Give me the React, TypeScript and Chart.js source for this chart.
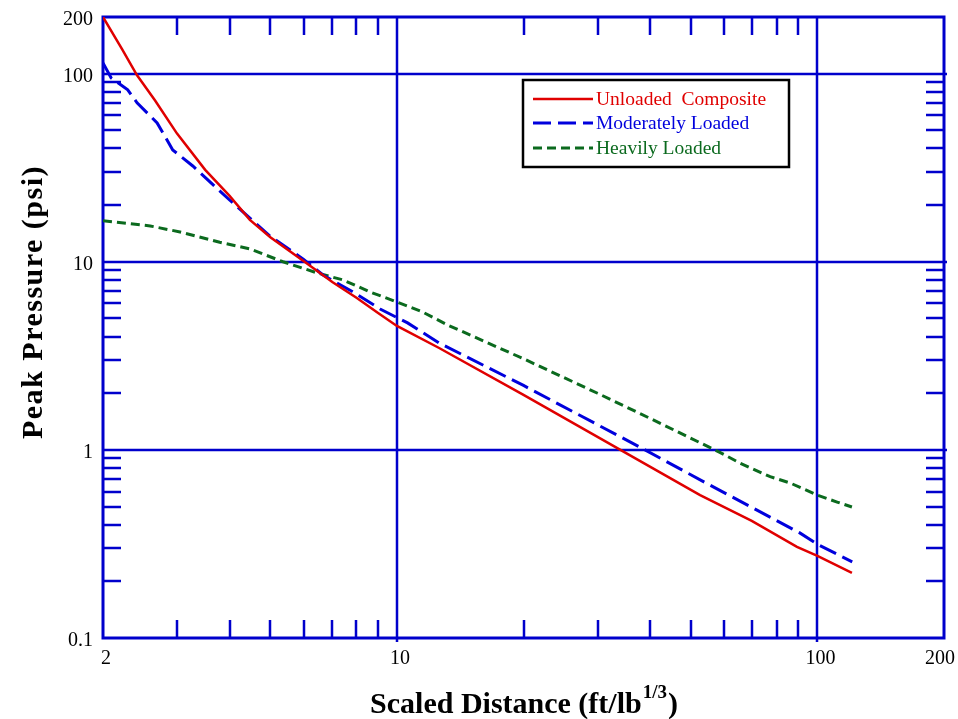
import React, { useEffect, useRef } from 'react';
import { Chart, registerables } from 'chart.js';

Chart.register(...registerables);

// ---- data ----
const xTickValues = [2, 10, 100, 200];
const yTickValues = [0.1, 1, 10, 100, 200];
const xMajorGrid = [10, 100];
const yMajorGrid = [1, 10, 100];
const xMinorTicks = [3, 4, 5, 6, 7, 8, 9, 20, 30, 40, 50, 60, 70, 80, 90];
const yMinorTicks = [0.2, 0.3, 0.4, 0.5, 0.6, 0.7, 0.8, 0.9, 2, 3, 4, 5, 6, 7, 8, 9, 20, 30, 40, 50, 60, 70, 80, 90];

const unloadedX = [2, 2.22, 2.41, 2.66, 3.0, 3.5, 4.0, 4.47, 5.0, 6.03, 7.02, 8.03, 9.02, 10, 12.6, 20, 34, 52.6, 69.8, 89.4, 100, 120.8];
const unloadedY = [200, 135, 98, 72, 48, 30.8, 22.4, 16.7, 13.5, 10, 7.81, 6.42, 5.34, 4.56, 3.48, 1.96, 1.0, 0.575, 0.419, 0.305, 0.273, 0.222];

const moderateX = [2, 2.09, 2.29, 2.41, 2.69, 2.93, 3.27, 4.0, 4.99, 6.0, 6.67, 7.87, 9.12, 10.6, 12.6, 20, 38.9, 54.3, 90.8, 100, 121];
const moderateY = [114, 95, 82, 70, 54.7, 39.3, 32.3, 21.3, 13.7, 10.3, 8.5, 6.9, 5.61, 4.73, 3.7, 2.2, 1.0, 0.667, 0.362, 0.315, 0.254];

const heavyX = [2, 2.59, 3.05, 3.79, 4.47, 5.36, 6.46, 7.45, 8.63, 10, 11.5, 13.2, 20, 30, 40, 58.6, 65.5, 77.2, 86.1, 100, 111.4, 120.8];
const heavyY = [16.5, 15.5, 14.4, 12.7, 11.7, 10.0, 8.72, 8.0, 6.91, 6.11, 5.41, 4.61, 3.05, 2.0, 1.47, 0.97, 0.85, 0.72, 0.667, 0.575, 0.528, 0.497];

const seriesNames = ['Unloaded  Composite', 'Moderately Loaded', 'Heavily Loaded'];
const seriesColors = ['#E00000', '#0000DD', '#0B6A1E'];
const seriesDashes: number[][] = [[], [18, 7], [9, 5]];
const seriesWidths = [2.5, 3, 3];

const xTitle = 'Scaled Distance (ft/lb';
const xTitleSup = '1/3';
const yTitle = 'Peak Pressure (psi)';

const AXIS_BLUE = '#0000CC';
const SERIF = "'Liberation Serif', 'Times New Roman', serif";

const zip = (xs: number[], ys: number[]) => xs.map((x, i) => ({ x, y: ys[i] }));

const framePlugin = {
  id: 'framePlugin',
  beforeDatasetsDraw(chart: any) {
    const { ctx, chartArea: a, scales } = chart;
    const xs = scales.x;
    const ys = scales.y;
    ctx.save();
    ctx.strokeStyle = AXIS_BLUE;
    ctx.lineCap = 'butt';
    // major grid
    ctx.lineWidth = 2.5;
    xMajorGrid.forEach((v) => {
      const px = Math.round(xs.getPixelForValue(v));
      ctx.beginPath();
      ctx.moveTo(px, a.top);
      ctx.lineTo(px, a.bottom + 4);
      ctx.stroke();
    });
    yMajorGrid.forEach((v) => {
      const py = Math.round(ys.getPixelForValue(v));
      ctx.beginPath();
      ctx.moveTo(a.left, py);
      ctx.lineTo(a.right + 3, py);
      ctx.stroke();
    });
    // minor ticks
    const L = 18;
    ctx.lineWidth = 2.5;
    xMinorTicks.forEach((v) => {
      const px = Math.round(xs.getPixelForValue(v));
      ctx.beginPath();
      ctx.moveTo(px, a.bottom);
      ctx.lineTo(px, a.bottom - L);
      ctx.moveTo(px, a.top);
      ctx.lineTo(px, a.top + L);
      ctx.stroke();
    });
    yMinorTicks.forEach((v) => {
      const py = Math.round(ys.getPixelForValue(v));
      ctx.beginPath();
      ctx.moveTo(a.left, py);
      ctx.lineTo(a.left + L, py);
      ctx.moveTo(a.right, py);
      ctx.lineTo(a.right - L, py);
      ctx.stroke();
    });
    // frame
    ctx.lineWidth = 3;
    ctx.strokeRect(a.left, a.top, a.right - a.left, a.bottom - a.top);
    ctx.restore();
  },
  afterDraw(chart: any) {
    const { ctx } = chart;
    ctx.save();
    // legend box
    const bx = 523, by = 80, bw = 266, bh = 87;
    ctx.strokeStyle = '#000';
    ctx.lineWidth = 2.5;
    ctx.strokeRect(bx, by, bw, bh);
    const rows = [99, 123, 148];
    ctx.font = `19.5px ${SERIF}`;
    ctx.textBaseline = 'middle';
    ctx.textAlign = 'left';
    seriesNames.forEach((name, i) => {
      ctx.strokeStyle = seriesColors[i];
      ctx.lineWidth = seriesWidths[i];
      ctx.setLineDash(seriesDashes[i]);
      ctx.beginPath();
      ctx.moveTo(533, rows[i]);
      ctx.lineTo(593, rows[i]);
      ctx.stroke();
      ctx.setLineDash([]);
      ctx.fillStyle = seriesColors[i];
      ctx.fillText(name, 596, rows[i] + 1);
    });

    // x title with superscript
    ctx.fillStyle = '#000';
    ctx.textBaseline = 'alphabetic';
    const mainFont = `bold 30px ${SERIF}`;
    const supFont = `bold 19px ${SERIF}`;
    ctx.font = mainFont;
    const w1 = ctx.measureText(xTitle).width;
    const w3 = ctx.measureText(')').width;
    ctx.font = supFont;
    const w2 = ctx.measureText(xTitleSup).width;
    const total = w1 + w2 + 2 + w3;
    const x0 = 524 - total / 2;
    const base = 713;
    ctx.font = mainFont;
    ctx.fillText(xTitle, x0, base);
    ctx.font = supFont;
    ctx.fillText(xTitleSup, x0 + w1 + 1, base - 15);
    ctx.font = mainFont;
    ctx.fillText(')', x0 + w1 + w2 + 2, base);

    // y title
    ctx.translate(42, 302);
    ctx.rotate(-Math.PI / 2);
    ctx.textAlign = 'center';
    ctx.font = mainFont;
    try { (ctx as any).letterSpacing = '1.5px'; } catch (e) {}
    ctx.fillText(yTitle, 0, 0);
    ctx.restore();
  },
};

export default function App() {
  const ref = useRef<HTMLCanvasElement | null>(null);
  useEffect(() => {
    if (!ref.current) return;
    const datasets = [
      zip(unloadedX, unloadedY),
      zip(moderateX, moderateY),
      zip(heavyX, heavyY),
    ].map((d, i) => ({
      label: seriesNames[i],
      data: d,
      borderColor: seriesColors[i],
      backgroundColor: seriesColors[i],
      borderWidth: seriesWidths[i],
      borderDash: seriesDashes[i],
      pointRadius: 0,
      tension: 0,
      fill: false,
    }));
    const tickFont = { family: SERIF, size: 20 };
    const chart = new Chart(ref.current, {
      type: 'line',
      data: { datasets },
      plugins: [framePlugin],
      options: {
        animation: false,
        responsive: false,
        layout: { padding: { top: 17, right: 14, left: 0, bottom: 0 } },
        plugins: { legend: { display: false }, tooltip: { enabled: false }, title: { display: false } },
        scales: {
          x: {
            type: 'logarithmic',
            min: 2,
            max: 200,
            grid: { display: false, drawTicks: false },
            border: { display: false },
            afterBuildTicks: (s: any) => { s.ticks = xTickValues.map((v) => ({ value: v })); },
            afterFit: (s: any) => { s.height = 81; s.paddingLeft = 0; s.paddingRight = 0; },
            ticks: {
              autoSkip: false,
              maxRotation: 0,
              padding: 9,
              labelOffset: 3,
              color: '#000',
              font: tickFont,
              callback: (v: any) => (v === 200 ? '200\u2002\u2009' : String(v)),
            },
          },
          y: {
            type: 'logarithmic',
            min: 0.1,
            max: 200,
            grid: { display: false, drawTicks: false },
            border: { display: false },
            afterBuildTicks: (s: any) => { s.ticks = yTickValues.map((v) => ({ value: v })); },
            afterFit: (s: any) => { s.width = 103; s.paddingTop = 0; s.paddingBottom = 0; },
            ticks: {
              autoSkip: false,
              padding: 10,
              labelOffset: 3,
              color: '#000',
              font: tickFont,
              callback: (v: any) => String(v),
            },
          },
        },
      } as any,
    });
    return () => chart.destroy();
  }, []);
  return (
    <div style={{ position: 'fixed', left: 0, top: 0, width: 958, height: 719, background: '#fff' }}>
      <canvas ref={ref} width={958} height={719} style={{ width: 958, height: 719, display: 'block' }} />
    </div>
  );
}
